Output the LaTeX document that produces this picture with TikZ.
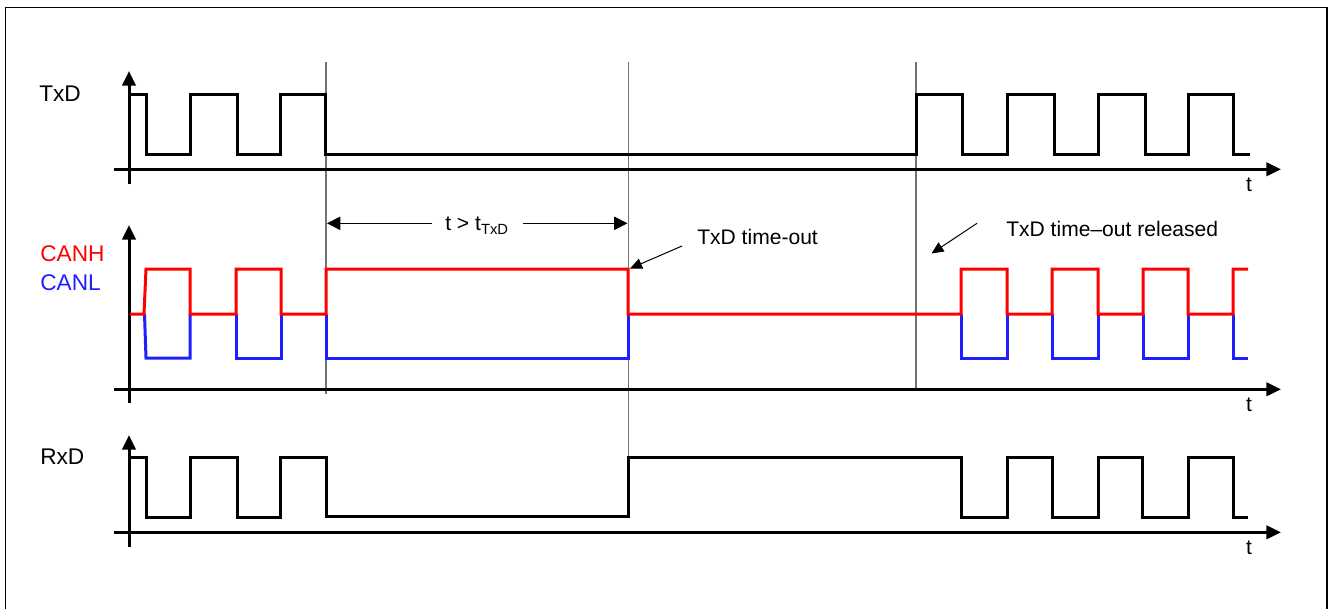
\documentclass[tikz,border=0pt]{standalone}
\usepackage{fontspec}
\setmainfont{Liberation Sans}
\usetikzlibrary{arrows.meta}
\begin{document}
\begin{tikzpicture}[x=0.75pt,y=-0.75pt,
  sig/.style={line width=2.25pt,line join=miter,line cap=butt},
  axis/.style={line width=2.25pt,-{Triangle[length=11pt,width=10pt]}},
  marker/.style={line width=1pt,draw=black!55},
  ann/.style={line width=0.75pt,-{Triangle[length=9pt,width=8pt]}},
  lbl/.style={font=\fontsize{17pt}{20pt}\selectfont,inner sep=0pt,anchor=base west},
  note/.style={font=\fontsize{15.8pt}{19pt}\selectfont,inner sep=0pt,anchor=base west},
  tlab/.style={font=\fontsize{15.8pt}{19pt}\selectfont,inner sep=0pt,anchor=base}]
\useasboundingbox (0,0) rectangle (1330,608);
\draw[line width=1.1pt] (5.5,7.5) rectangle (1327,615);

% markers (thin vertical lines)
\coordinate (m1t) at (326,62);  \coordinate (m1b) at (326,394);
\coordinate (m2t) at (628.5,62); \coordinate (m2b) at (628.5,456);
\coordinate (m3t) at (916,62);  \coordinate (m3b) at (916,389);
\draw[marker] (m1t) -- (m1b);
\draw[marker] (m2t) -- (m2b);
\draw[marker] (m3t) -- (m3b);

% axes
\coordinate (ty0) at (129,184); \coordinate (ty1) at (129,71);
\coordinate (tx0) at (114,169.3); \coordinate (tx1) at (1281,169.3);
\coordinate (cy0) at (129,403); \coordinate (cy1) at (129,225);
\coordinate (cx0) at (114,389.3); \coordinate (cx1) at (1281,389.3);
\coordinate (ry0) at (129,547); \coordinate (ry1) at (129,435);
\coordinate (rx0) at (114,532.3); \coordinate (rx1) at (1281,532.3);
\draw[axis] (ty0) -- (ty1);
\draw[axis] (tx0) -- (tx1);
\draw[axis] (cy0) -- (cy1);
\draw[axis] (cx0) -- (cx1);
\draw[axis] (ry0) -- (ry1);
\draw[axis] (rx0) -- (rx1);

% TxD
\draw[sig] (130,94) -- (146,94) -- (146,154) -- (190,154) -- (190,94) -- (237,94) -- (237,154) -- (280,154) -- (280,94) -- (325,94) -- (325,154) -- (916,154) -- (916,94) -- (962,94) -- (962,154) -- (1007,154) -- (1007,94) -- (1054,94) -- (1054,154) -- (1098,154) -- (1098,94) -- (1145,94) -- (1145,154) -- (1188,154) -- (1188,94) -- (1233,94) -- (1233,154) -- (1250,154);

% CANL (blue)
\begin{scope}[sig,draw={rgb,255:red,30;green,30;blue,255}]
\draw (144.5,314) -- (146,358) -- (190,358) -- (190,314);
\draw (236,314) -- (236,358) -- (281,358) -- (281,314);
\draw (326,314) -- (326,358) -- (628,358) -- (628,314);
\draw (961,314) -- (961,358) -- (1007,358) -- (1007,314);
\draw (1052,314) -- (1052,358) -- (1098,358) -- (1098,314);
\draw (1143,314) -- (1143,358) -- (1188,358) -- (1188,314);
\draw (1233,314) -- (1233,358) -- (1248,358);
\end{scope}
% CANH (red)
\draw[sig,draw={rgb,255:red,255;green,0;blue,0}] (130,314) -- (144,314) -- (146,269) -- (190,269) -- (190,314) -- (236,314) -- (236,269) -- (281,269) -- (281,314) -- (326,314) -- (326,269) -- (628,269) -- (628,314) -- (961,314) -- (961,269) -- (1007,269) -- (1007,314) -- (1052,314) -- (1052,269) -- (1098,269) -- (1098,314) -- (1143,314) -- (1143,269) -- (1188,269) -- (1188,314) -- (1233,314) -- (1233,269) -- (1248,269);

% RxD
\draw[sig] (130,457) -- (146,457) -- (146,517) -- (190,517) -- (190,457) -- (237,457) -- (237,517) -- (280,517) -- (280,457) -- (326,457) -- (326,516) -- (628,516) -- (628,457) -- (961,457) -- (961,517) -- (1007,517) -- (1007,457) -- (1052,457) -- (1052,517) -- (1098,517) -- (1098,457) -- (1142,457) -- (1142,517) -- (1188,517) -- (1188,457) -- (1233,457) -- (1233,517) -- (1248,517);

% labels
\node[lbl] (txd) at (39,101) {TxD};
\node[lbl,text={rgb,255:red,255;green,0;blue,0}] (canh) at (40,261) {CANH};
\node[lbl,text={rgb,255:red,30;green,30;blue,255}] (canl) at (40,290) {CANL};
\node[lbl] (rxd) at (40,464) {RxD};
\node[tlab] (t1) at (1249,191.5) {t};
\node[tlab] (t2) at (1249,411.5) {t};
\node[tlab] (t3) at (1249,554.5) {t};

% duration arrow
\node[tlab] (dur) at (477,230.5) {t > t\textsubscript{TxD}};
\coordinate (dl0) at (432,223.3); \coordinate (dl1) at (327,223.3);
\coordinate (dr0) at (523,223.3); \coordinate (dr1) at (627.5,223.3);
\draw[line width=0.75pt,-{Triangle[length=10pt,width=10pt]}] (dl0) -- (dl1);
\draw[line width=0.75pt,-{Triangle[length=10pt,width=10pt]}] (dr0) -- (dr1);

% annotations
\node[note] (to) at (697,244.3) {TxD time-out};
\coordinate (a1s) at (682,246); \coordinate (a1e) at (630,268.5);
\draw[ann] (a1s) -- (a1e);
\node[note] (rel) at (1006,236.7) {TxD time--out released};
\coordinate (a2s) at (977,223.3); \coordinate (a2e) at (931.5,253.5);
\draw[ann] (a2s) -- (a2e);
\end{tikzpicture}
\end{document}
